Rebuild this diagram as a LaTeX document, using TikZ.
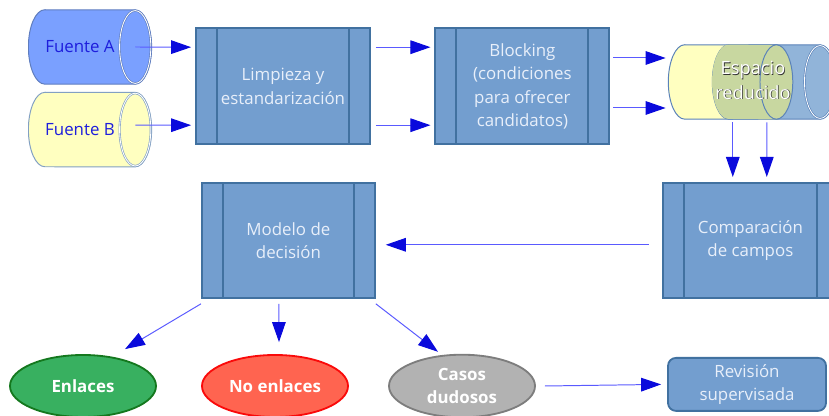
\documentclass[tikz,border=0pt]{standalone}
\usepackage{fontspec}
\setmainfont{Open Sans}
\usetikzlibrary{shapes.geometric,arrows.meta,calc}

\definecolor{boxfill}{RGB}{115,158,207}
\definecolor{boxline}{RGB}{65,113,160}
\definecolor{boxtext}{RGB}{232,239,250}
\definecolor{srcA}{RGB}{122,160,255}
\definecolor{srcAline}{RGB}{95,125,190}
\definecolor{srcB}{RGB}{255,255,192}
\definecolor{srcBline}{RGB}{130,160,195}
\definecolor{srctext}{RGB}{30,30,220}
\definecolor{espB}{RGB}{145,180,217}
\definecolor{espmix}{RGB}{200,215,160}
\definecolor{espline}{RGB}{90,130,185}
\definecolor{arrline}{RGB}{90,90,255}
\definecolor{arrhead}{RGB}{10,10,220}
\definecolor{enlfill}{RGB}{56,176,96}
\definecolor{enlline}{RGB}{20,120,30}
\definecolor{noenfill}{RGB}{255,100,80}
\definecolor{noenline}{RGB}{250,10,10}
\definecolor{casfill}{RGB}{178,178,178}
\definecolor{casline}{RGB}{125,125,125}

\begin{document}
\begin{tikzpicture}[
        box/.style={rectangle,draw=boxline,line width=1.3pt,fill=boxfill,text=boxtext,
            minimum width=4.35cm,minimum height=2.9cm,align=center,
            font=\fontsize{12}{16.5}\selectfont,
            path picture={
                \draw[boxline,line width=1.3pt] ([xshift=0.525cm]path picture bounding box.north west) -- ([xshift=0.525cm]path picture bounding box.south west);
                \draw[boxline,line width=1.3pt] ([xshift=-0.525cm]path picture bounding box.north east) -- ([xshift=-0.525cm]path picture bounding box.south east);
            }},
        cyl/.style 2 args={rectangle,inner sep=0pt,minimum width=3.1cm,minimum height=1.9cm,
            text=srctext,font=\fontsize{12}{14}\selectfont,
            path picture={
                \filldraw[fill=#1,draw=#2,line width=0.7pt]
                    ([xshift=0.42cm,yshift=-0.6pt]path picture bounding box.north west)
                    -- ([xshift=-0.42cm,yshift=-0.6pt]path picture bounding box.north east)
                    arc[start angle=90,end angle=-90,x radius=0.41cm,y radius=0.93cm]
                    -- ([xshift=0.42cm,yshift=0.6pt]path picture bounding box.south west)
                    arc[start angle=270,end angle=90,x radius=0.41cm,y radius=0.93cm] -- cycle;
                \draw[#2,double=white,double distance=0.6pt,line width=0.45pt]
                    ([xshift=-0.42cm]path picture bounding box.east) ellipse[x radius=0.39cm,y radius=0.91cm];
            }},
        res/.style={ellipse,line width=1.3pt,minimum width=3.65cm,minimum height=1.55cm,
            text=white,align=center,font=\bfseries\fontsize{12}{16}\selectfont},
        flow/.style={draw=arrline,line width=0.7pt,-{Triangle[length=0.5cm,width=0.34cm,color=arrhead]}}
    ]
        \useasboundingbox (0,0) rectangle (20.725,10.4);

        % Define the nodes
        \node[cyl={srcA}{srcAline}] (fA) at (2.25,9.225) {Fuente A\hspace*{0.5cm}};
        \node[cyl={srcB}{srcBline}] (fB) at (2.25,7.16) {Fuente B\hspace*{0.5cm}};
        \node[box] (limp) at (7.075,8.24) {Limpieza y\\estandarización};
        \node[box] (block) at (13.06,8.24) {Blocking\\(condiciones\\para ofrecer\\candidatos)};
        \node[cyl={srcB}{espline},minimum width=3.125cm] (espA) at (18.26,8.35) {};
        \node[cyl={espB}{espline},minimum width=3.125cm] (espB) at (19.36,8.35) {};
        \node[box,minimum width=4.375cm,minimum height=2.875cm] (cmp) at (18.76,4.39) {Comparación\\de campos};
        \node[box,minimum width=4.325cm,minimum height=2.875cm] (mod) at (7.21,4.39) {Modelo de\\decisión};
        \node[res,fill=enlfill,draw=enlline] (enl) at (2.075,0.75) {Enlaces};
        \node[res,fill=noenfill,draw=noenline] (noen) at (6.875,0.75) {No enlaces};
        \node[res,fill=casfill,draw=casline] (cas) at (11.55,0.75) {Casos\\dudosos};
        \node[rectangle,rounded corners=0.2cm,draw=boxline,line width=1.3pt,fill=boxfill,text=boxtext,
            minimum width=3.95cm,minimum height=1.325cm,align=center,
            font=\fontsize{12}{16.5}\selectfont] (rev) at (18.675,0.79) {Revisión\\supervisada};

        % Overlap of the two cylinders
        \fill[espmix] ([xshift=0.42cm,yshift=-0.6pt]espB.north west)
            arc[start angle=90,end angle=270,x radius=0.41cm,y radius=0.93cm]
            -- ([xshift=-0.42cm,yshift=0.6pt]espA.south east)
            arc[start angle=-90,end angle=90,x radius=0.41cm,y radius=0.93cm] -- cycle;
        \draw[espline,line width=0.7pt] ([xshift=-0.42cm]espA.east) ellipse[x radius=0.41cm,y radius=0.93cm];
        \node[text=black!80,align=center,font=\fontsize{13}{17.5}\selectfont] (espsh) at (18.845,8.375) {Espacio\\reducido};
        \node[text=white,align=center,font=\fontsize{13}{17.5}\selectfont] (esp) at (18.825,8.39) {Espacio\\reducido};

        % Draw the connectors
        \draw[flow] ([xshift=-0.425cm]fA.east) -- ([xshift=-0.1cm,yshift=0.98cm]limp.west);
        \draw[flow] ([xshift=-0.425cm,yshift=0.11cm]fB.east) -- ([xshift=-0.1cm,yshift=-0.97cm]limp.west);
        \draw[flow] ([xshift=0.125cm,yshift=0.98cm]limp.east) -- ([xshift=-0.1cm,yshift=0.98cm]block.west);
        \draw[flow] ([xshift=0.125cm,yshift=-0.97cm]limp.east) -- ([xshift=-0.1cm,yshift=-0.97cm]block.west);
        \draw[flow] ([xshift=0.075cm,yshift=0.71cm]block.east) -- ([xshift=-0.05cm,yshift=0.6cm]espA.west);
        \draw[flow] ([xshift=0.075cm,yshift=-0.54cm]block.east) -- ([xshift=-0.05cm,yshift=-0.65cm]espA.west);
        \draw[flow] ([xshift=0.06cm,yshift=-0.05cm]espA.south) -- ([xshift=-0.44cm,yshift=0.125cm]cmp.north);
        \draw[flow] ([xshift=0.91cm,yshift=-0.05cm]espA.south) -- ([xshift=0.41cm,yshift=0.125cm]cmp.north);
        \draw[flow] ([xshift=-0.325cm,yshift=-0.11cm]cmp.west) -- ([xshift=0.25cm,yshift=-0.11cm]mod.east);
        \draw[flow] ([yshift=-0.125cm]mod.south west) -- ([xshift=1.05cm,yshift=0.125cm]enl.north);
        \draw[flow] ([xshift=-0.24cm,yshift=-0.125cm]mod.south) -- ([xshift=0.1cm,yshift=0.3cm]noen.north);
        \draw[flow] ([yshift=-0.125cm]mod.south east) -- ([xshift=-0.6cm,yshift=0.05cm]cas.north);
        \draw[flow] ([xshift=0.225cm]cas.east) -- ([xshift=-0.15cm]rev.west);
    \end{tikzpicture}
\end{document}
